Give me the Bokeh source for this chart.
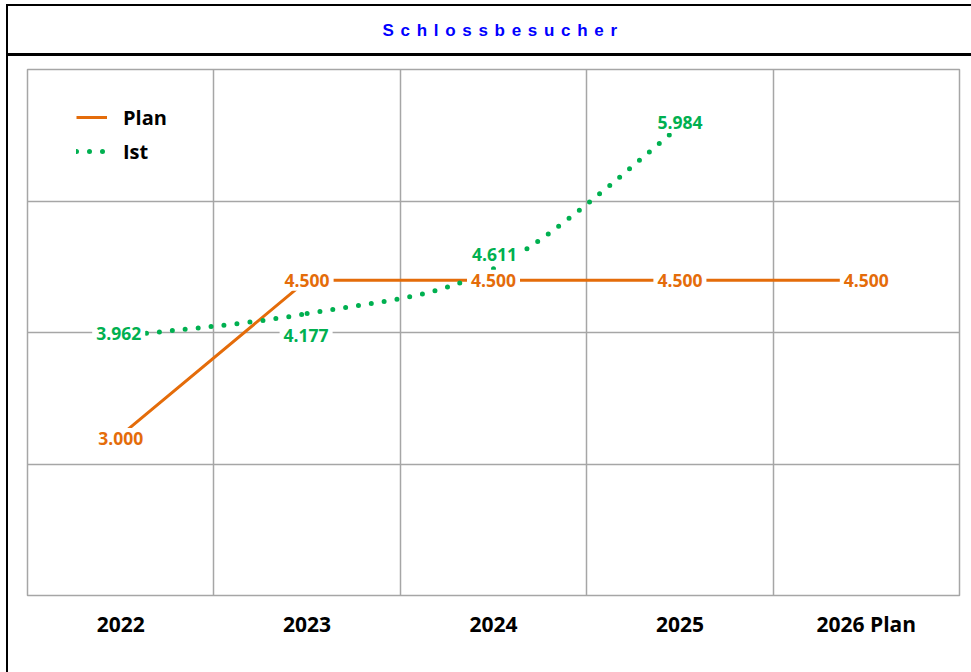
from bokeh.plotting import figure
from bokeh.layouts import column
from bokeh.models import ColumnDataSource, Range1d, FixedTicker, Legend, LegendItem, Label
from bokeh.core.properties import value
from bokeh.embed import file_html
from bokeh.resources import INLINE

# ---------------- data ----------------
title_text = "Schlossbesucher"
categories = ["2022", "2023", "2024", "2025", "2026 Plan"]
series_names = ["Plan", "Ist"]
plan_values = [3000, 4500, 4500, 4500, 4500]
ist_values = [3962, 4177, 4611, 5984]

# ---------------- style ----------------
ORANGE = "#E46C0A"
GREEN = "#00B050"
BLUE = "#0000FF"
GRID = "#A6A6A6"
FONT = "Open Sans"

# label offsets in screen pixels (positive = down)
plan_dx = [0, 0, 0, 0, 0]
plan_dy = [3, 0, 0, 0, 0]
ist_dx = [-2, -1, 1, 0]
ist_dy = [-2, 22, -14, -4]


def fmt(v):
    return f"{v:,}".replace(",", ".")


W = 971
TH = 57            # title strip height
H = 672 - TH       # chart height
ML, MR, MT, MB = 27, 12, 12, 77

# ---------------- title strip ----------------
t = figure(width=W, height=TH, output_backend="svg", toolbar_location=None,
           x_range=Range1d(0, 1), y_range=Range1d(0, 1),
           x_axis_location=None, y_axis_location=None, title=None,
           min_border=0, min_border_left=0, min_border_right=0,
           min_border_top=0, min_border_bottom=0)
t.grid.visible = False
t.outline_line_color = None
t.background_fill_color = None
t.border_fill_color = None
t.styles = {
    "letter-spacing": "6.7px",
    "background": ("linear-gradient(#000,#000) 6px 4px / 2px 100% no-repeat, "
                   "linear-gradient(#000,#000) 6px 4px / 100% 2px no-repeat, "
                   "linear-gradient(#000,#000) 6px 53px / 100% 3px no-repeat, #fff"),
}
t.add_layout(Label(x=355, y=TH - 30, x_units="screen", y_units="screen",
                   text=title_text, text_align="left", text_baseline="middle",
                   text_color=BLUE, text_font="Liberation Sans", text_font_style="bold",
                   text_font_size="17px"))

# ---------------- chart ----------------
y0, y1 = 1453, 6536

p = figure(width=W, height=H, output_backend="svg", toolbar_location=None,
           x_range=Range1d(-0.5, len(categories) - 0.5), y_range=Range1d(y0, y1),
           y_axis_location=None, title=None,
           min_border_left=ML, min_border_right=MR, min_border_top=MT, min_border_bottom=MB)
p.background_fill_color = "white"
p.border_fill_color = None
p.outline_line_color = GRID
p.outline_line_width = 1.5
p.styles = {
    "background": "linear-gradient(#000,#000) 6px 0px / 2px 100% no-repeat, #fff",
}

# grids
p.xgrid.ticker = FixedTicker(ticks=[i + 0.5 for i in range(len(categories) - 1)])
p.ygrid.ticker = FixedTicker(ticks=[y0 + k * (y1 - y0) / 4 for k in range(1, 4)])
for g in (p.xgrid, p.ygrid):
    g.grid_line_color = GRID
    g.grid_line_width = 1.5

# x axis
ax = p.xaxis[0]
ax.ticker = FixedTicker(ticks=list(range(len(categories))))
ax.major_label_overrides = {i: c for i, c in enumerate(categories)}
ax.axis_line_color = None
ax.major_tick_line_color = None
ax.minor_tick_line_color = None
ax.major_tick_out = 0
ax.major_label_standoff = 14
ax.major_label_text_font = FONT
ax.major_label_text_font_style = "bold"
ax.major_label_text_font_size = "21px"
ax.major_label_text_color = "black"

# Plan line
plan_x = list(range(len(plan_values)))
plan_r = p.line(plan_x, plan_values, line_color=ORANGE, line_width=3)

# Ist smoothed curve (bezier segments, Catmull-Rom style smoothing)
ist_x = list(range(len(ist_values)))
pts = list(zip(ist_x, ist_values))
n = len(pts)
seg = dict(x0=[], y0=[], x1=[], y1=[], cx0=[], cy0=[], cx1=[], cy1=[])
for i in range(n - 1):
    a = pts[max(i - 1, 0)]
    b = pts[i]
    c = pts[i + 1]
    d = pts[min(i + 2, n - 1)]
    seg["x0"].append(b[0]); seg["y0"].append(b[1])
    seg["x1"].append(c[0]); seg["y1"].append(c[1])
    seg["cx0"].append(b[0] + (c[0] - a[0]) / 6); seg["cy0"].append(b[1] + (c[1] - a[1]) / 6)
    seg["cx1"].append(c[0] - (d[0] - b[0]) / 6); seg["cy1"].append(c[1] - (d[1] - b[1]) / 6)
p.bezier(x0="x0", y0="y0", x1="x1", y1="y1", cx0="cx0", cy0="cy0", cx1="cx1", cy1="cy1",
         source=ColumnDataSource(seg), line_color=GREEN, line_width=5,
         line_dash="0 13", line_cap="round")
# single-point line (draws nothing) used only as the legend glyph for "Ist"
ist_leg_r = p.line(x=ist_x[:1], y=ist_values[:1], line_color=GREEN, line_width=5,
                   line_dash="0 13", line_cap="round")

# data labels
plan_src = ColumnDataSource(dict(x=plan_x, y=plan_values, text=[fmt(v) for v in plan_values],
                                 dx=plan_dx, dy=plan_dy))
ist_src = ColumnDataSource(dict(x=ist_x, y=ist_values, text=[fmt(v) for v in ist_values],
                                dx=ist_dx, dy=ist_dy))
for src, col in ((plan_src, ORANGE), (ist_src, GREEN)):
    p.text(x="x", y="y", text="text", x_offset="dx", y_offset="dy", source=src,
           text_color=col, text_font=value(FONT), text_font_style="bold",
           text_font_size="17.5px", text_align="center", text_baseline="middle",
           background_fill_color="white", padding=4)

# legend
legend = Legend(items=[LegendItem(label=series_names[0], renderers=[plan_r]),
                       LegendItem(label=series_names[1], renderers=[ist_leg_r])],
                location=(49, 427), glyph_width=31, glyph_height=34, label_height=34,
                label_standoff=16, spacing=0, padding=0, margin=0,
                border_line_color=None, background_fill_alpha=0,
                label_text_font=FONT, label_text_font_style="bold",
                label_text_font_size="20px", label_text_color="black")
p.add_layout(legend)

layout = column(t, p, spacing=0)
open("out.html", "w").write(file_html(layout, INLINE))
